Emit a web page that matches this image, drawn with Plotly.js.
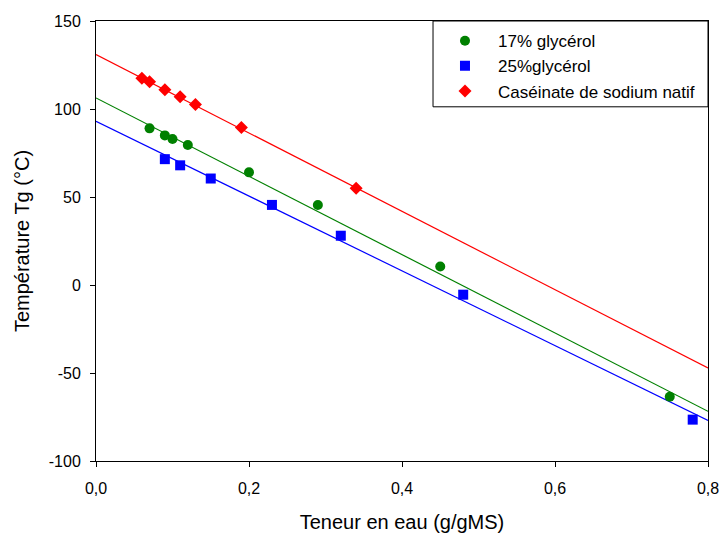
<!DOCTYPE html>
<html>
<head>
<meta charset="utf-8">
<script src="https://cdn.plot.ly/plotly-3.0.1.min.js"></script>
<style>html,body{margin:0;padding:0;background:#fff;}#chart{width:722px;height:534px;}</style>
</head>
<body>
<div id="chart"></div>
<script>
// Data
const seriesNames = ["17% glycérol", "25%glycérol", "Caséinate de sodium natif"];

const x17 = [0.07, 0.09, 0.10, 0.12, 0.20, 0.29, 0.45, 0.75];
const y17 = [89, 85, 83, 79.5, 64, 45.5, 10.5, -63.5];

const x25 = [0.09, 0.11, 0.15, 0.23, 0.32, 0.48, 0.78];
const y25 = [71.5, 68, 60.5, 45.5, 28, -5.5, -76.5];

const xCas = [0.06, 0.07, 0.09, 0.11, 0.13, 0.19, 0.34];
const yCas = [117.5, 115.5, 111, 107, 102.5, 89.5, 55];

// Fitted regression lines (intercept, slope)
const fitIntercepts = [106.3, 93.0, 130.9];
const fitSlopes = [-222.6, -212.4, -222.6];
const fitRange = [0, 0.8];

const xTickVals = [0, 0.2, 0.4, 0.6, 0.8];
const xTickText = ["0,0", "0,2", "0,4", "0,6", "0,8"];
const yTickVals = [-100, -50, 0, 50, 100, 150];
const yTickText = ["-100", "-50", "0", "50", "100", "150"];

const colors = ["#008000", "#0000ff", "#ff0000"];
const symbols = ["circle", "square", "diamond"];
const sizes = [10, 10, 10];

const xs = [x17, x25, xCas];
const ys = [y17, y25, yCas];

const traces = [];
for (let i = 0; i < 3; i++) {
  traces.push({
    x: fitRange,
    y: fitRange.map(v => fitIntercepts[i] + fitSlopes[i] * v),
    mode: "lines",
    line: {color: colors[i], width: 1.2},
    showlegend: false,
    hoverinfo: "skip"
  });
}
for (let i = 0; i < 3; i++) {
  traces.push({
    x: xs[i],
    y: ys[i],
    name: seriesNames[i],
    mode: "markers",
    marker: {color: colors[i], symbol: symbols[i], size: sizes[i], line: {width: 0}}
  });
}

const font = "Liberation Sans, Arial, sans-serif";
const layout = {
  width: 722, height: 534,
  margin: {l: 96, r: 14, t: 21, b: 73},
  paper_bgcolor: "#fff", plot_bgcolor: "#fff",
  separators: ",.",
  font: {family: font, size: 16, color: "#000"},
  showlegend: true,
  legend: {
    x: 0.549, xanchor: "left", y: 0.995, yanchor: "top",
    bgcolor: "rgba(0,0,0,0)", borderwidth: 0,
    itemwidth: 56,
    font: {family: font, size: 17, color: "#000"}
  },
  shapes: [{
    type: "rect", xref: "paper", yref: "paper",
    x0: 0.5507, x1: 1, y0: 0.805, y1: 1,
    line: {color: "#000", width: 1}, fillcolor: "rgba(0,0,0,0)"
  }],
  xaxis: {
    range: [0, 0.8], tickvals: xTickVals, ticktext: xTickText,
    showgrid: false, zeroline: false,
    showline: true, linecolor: "#000", linewidth: 1, mirror: true,
    ticks: "outside", ticklen: 5, tickcolor: "#000", ticklabelstandoff: 8,
    tickfont: {family: font, size: 16},
    title: {text: "Teneur en eau (g/gMS)", font: {family: font, size: 20}, standoff: 18}
  },
  yaxis: {
    range: [-100, 150], tickvals: yTickVals, ticktext: yTickText,
    showgrid: false, zeroline: false,
    showline: true, linecolor: "#000", linewidth: 1, mirror: true,
    ticks: "outside", ticklen: 5, tickcolor: "#000", ticklabelstandoff: 6,
    tickfont: {family: font, size: 16},
    title: {text: "Température Tg (°C)", font: {family: font, size: 20}, standoff: 13}
  }
};

Plotly.newPlot("chart", traces, layout, {displayModeBar: false, staticPlot: true});
</script>
</body>
</html>
